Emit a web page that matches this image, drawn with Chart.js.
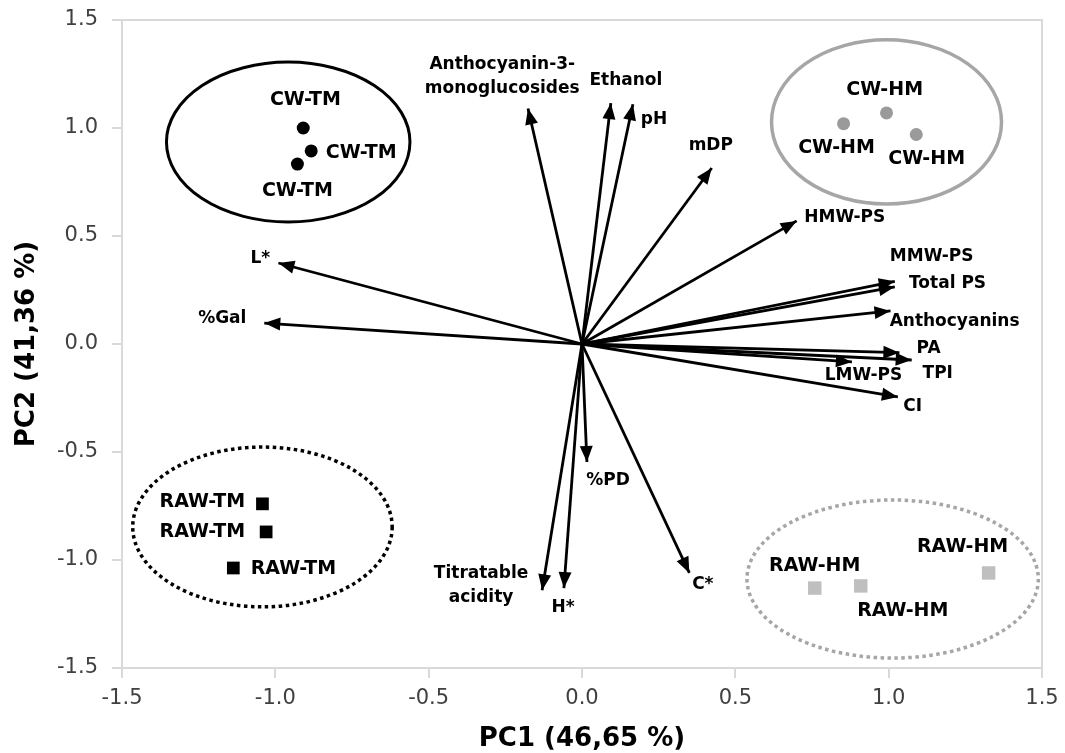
<!DOCTYPE html>
<html>
<head>
<meta charset="utf-8">
<script src="https://cdn.jsdelivr.net/npm/chart.js@4.4.0/dist/chart.umd.min.js"></script>
<style>
  body { margin: 0; background: #fff; }
  canvas { display: block; }
</style>
</head>
<body>
<canvas id="pcaChart" width="1065" height="753"></canvas>
<script>
// loadings (variables)
const varNames = ['Anthocyanin-3-\nmonoglucosides', 'Ethanol', 'pH', 'mDP', 'HMW-PS', 'MMW-PS', 'Total PS',
    'Anthocyanins', 'PA', 'TPI', 'LMW-PS', 'CI', 'L*', '%Gal', '%PD', 'Titratable\nacidity', 'H*', 'C*'];
const varPC1 = [-0.176, 0.094, 0.166, 0.423, 0.70, 1.02, 1.02, 1.006, 1.035, 1.075, 0.88, 1.03, -0.99, -1.036, 0.016, -0.13, -0.059, 0.35];
const varPC2 = [1.09, 1.115, 1.11, 0.815, 0.57, 0.29, 0.265, 0.153, -0.04, -0.074, -0.083, -0.245, 0.375, 0.097, -0.546, -1.14, -1.13, -1.06];
// where each variable name sits (data units)
const varLabelX = [-0.26, 0.143, 0.235, 0.42, 0.857, 1.14, 1.192, 1.215, 1.13, 1.16, 0.918, 1.078, -1.049, -1.173, 0.085, -0.329, -0.062, 0.394];
const varLabelY = [1.238, 1.218, 1.037, 0.917, 0.583, 0.403, 0.278, 0.102, -0.023, -0.139, -0.144, -0.29, 0.394, 0.116, -0.63, -1.118, -1.218, -1.116];

// scores (samples)
const groups = ['CW-TM', 'CW-HM', 'RAW-TM', 'RAW-HM'];
const cwtmX = [-0.909, -0.883, -0.928];
const cwtmY = [1.0, 0.894, 0.833];
const cwhmX = [0.853, 0.993, 1.09];
const cwhmY = [1.02, 1.07, 0.97];
const rawtmX = [-1.042, -1.03, -1.137];
const rawtmY = [-0.74, -0.87, -1.037];
const rawhmX = [0.759, 0.909, 1.326];
const rawhmY = [-1.13, -1.12, -1.06];

const cwtmLabX = [-0.902, -0.72, -0.928];
const cwtmLabY = [1.13, 0.884, 0.708];
const cwhmLabX = [0.987, 0.83, 1.124];
const cwhmLabY = [1.176, 0.907, 0.856];
const rawtmLabX = [-1.238, -1.238, -0.941];
const rawtmLabY = [-0.731, -0.87, -1.042];
const rawhmLabX = [0.759, 1.046, 1.241];
const rawhmLabY = [-1.028, -1.236, -0.94];

// group ellipses: centre and radii in data units
const ellCX = [-0.958, 0.993, -1.042, 1.013];
const ellCY = [0.935, 1.028, -0.847, -1.088];
const ellRX = [0.397, 0.375, 0.423, 0.475];
const ellRY = [0.37, 0.38, 0.37, 0.366];

const xTicks = [-1.5, -1.0, -0.5, 0.0, 0.5, 1.0, 1.5];
const yTicks = [-1.5, -1.0, -0.5, 0.0, 0.5, 1.0, 1.5];

const ellStyle = [
    { color: '#000000', width: 3, dash: [] },
    { color: '#a6a6a6', width: 3.5, dash: [] },
    { color: '#000000', width: 3.5, dash: [3.5, 3.5] },
    { color: '#a6a6a6', width: 3.5, dash: [3.5, 3.5] }
];

function toPoints(xs, ys) {
    return xs.map((x, i) => ({ x: x, y: ys[i] }));
}

const arrowSets = varNames.map((name, i) => ({
    label: name,
    data: [{ x: 0, y: 0 }, { x: varPC1[i], y: varPC2[i] }],
    showLine: true,
    borderColor: '#000',
    borderWidth: 2.8,
    pointRadius: 0
}));

const scoreSets = [
    { label: groups[0], data: toPoints(cwtmX, cwtmY), pointStyle: 'circle', pointRadius: 6.5, backgroundColor: '#000', borderColor: '#000', borderWidth: 0 },
    { label: groups[1], data: toPoints(cwhmX, cwhmY), pointStyle: 'circle', pointRadius: 6.5, backgroundColor: '#9a9a9a', borderColor: '#9a9a9a', borderWidth: 0 },
    { label: groups[2], data: toPoints(rawtmX, rawtmY), pointStyle: 'rect', pointRadius: 9, backgroundColor: '#000', borderColor: '#000', borderWidth: 0 },
    { label: groups[3], data: toPoints(rawhmX, rawhmY), pointStyle: 'rect', pointRadius: 9.5, backgroundColor: '#bfbfbf', borderColor: '#bfbfbf', borderWidth: 0 }
];

const sampleLabels = [
    [cwtmLabX, cwtmLabY], [cwhmLabX, cwhmLabY], [rawtmLabX, rawtmLabY], [rawhmLabX, rawhmLabY]
];

// ellipses, frame, arrow heads and text labels
const biplotPlugin = {
    id: 'biplot',
    beforeDatasetsDraw(chart) {
        const ctx = chart.ctx;
        const xs = chart.scales.x, ys = chart.scales.y;
        ctx.save();
        ellCX.forEach((cx, i) => {
            const px = xs.getPixelForValue(cx);
            const py = ys.getPixelForValue(ellCY[i]);
            const rx = Math.abs(xs.getPixelForValue(cx + ellRX[i]) - px);
            const ry = Math.abs(ys.getPixelForValue(ellCY[i] + ellRY[i]) - py);
            ctx.beginPath();
            ctx.ellipse(px, py, rx, ry, 0, 0, Math.PI * 2);
            ctx.strokeStyle = ellStyle[i].color;
            ctx.lineWidth = ellStyle[i].width;
            ctx.setLineDash(ellStyle[i].dash);
            ctx.stroke();
        });
        ctx.setLineDash([]);
        const a = chart.chartArea;
        ctx.strokeStyle = '#d9d9d9';
        ctx.lineWidth = 2;
        ctx.strokeRect(a.left, a.top, a.right - a.left, a.bottom - a.top);
        ctx.restore();
    },
    afterDatasetsDraw(chart) {
        const ctx = chart.ctx;
        const xs = chart.scales.x, ys = chart.scales.y;
        ctx.save();
        // arrow heads
        const ox = xs.getPixelForValue(0), oy = ys.getPixelForValue(0);
        varPC1.forEach((vx, i) => {
            const tx = xs.getPixelForValue(vx), ty = ys.getPixelForValue(varPC2[i]);
            const ang = Math.atan2(ty - oy, tx - ox);
            const len = 16, half = 6.5;
            ctx.beginPath();
            ctx.moveTo(tx, ty);
            ctx.lineTo(tx - len * Math.cos(ang) + half * Math.sin(ang), ty - len * Math.sin(ang) - half * Math.cos(ang));
            ctx.lineTo(tx - len * Math.cos(ang) - half * Math.sin(ang), ty - len * Math.sin(ang) + half * Math.cos(ang));
            ctx.closePath();
            ctx.fillStyle = '#000';
            ctx.fill();
        });
        // variable names
        ctx.fillStyle = '#000';
        ctx.textAlign = 'center';
        ctx.textBaseline = 'middle';
        ctx.font = 'bold 17px "DejaVu Sans"';
        varNames.forEach((name, i) => {
            const px = xs.getPixelForValue(varLabelX[i]);
            const py = ys.getPixelForValue(varLabelY[i]);
            const lines = name.split('\n');
            lines.forEach((ln, k) => {
                ctx.fillText(ln, px, py + (k - (lines.length - 1) / 2) * 24);
            });
        });
        // sample names
        ctx.font = 'bold 19px "DejaVu Sans"';
        sampleLabels.forEach((pair, g) => {
            pair[0].forEach((lx, k) => {
                ctx.fillText(groups[g], xs.getPixelForValue(lx), ys.getPixelForValue(pair[1][k]));
            });
        });
        ctx.restore();
    }
};

const ctx = document.getElementById('pcaChart').getContext('2d');
new Chart(ctx, {
    type: 'scatter',
    data: { datasets: arrowSets.concat(scoreSets) },
    options: {
        responsive: false,
        animation: false,
        layout: { padding: { top: 20, right: 23, left: 0, bottom: 0 } },
        plugins: {
            legend: { display: false },
            tooltip: { enabled: false }
        },
        scales: {
            x: {
                type: 'linear',
                min: -1.5,
                max: 1.5,
                afterFit: s => { s.height = 85; s.paddingLeft = 0; s.paddingRight = 0; },
                afterBuildTicks: s => { s.ticks = xTicks.map(v => ({ value: v })); },
                grid: { drawOnChartArea: false, drawTicks: true, tickLength: 10, color: '#d9d9d9', lineWidth: 2 },
                border: { display: false },
                ticks: {
                    color: '#404040',
                    font: { family: '"DejaVu Sans"', size: 21 },
                    padding: 8,
                    maxRotation: 0,
                    callback: v => v.toFixed(1)
                },
                title: {
                    display: true,
                    text: 'PC1 (46,65 %)',
                    color: '#000',
                    font: { family: '"DejaVu Sans"', size: 26, weight: 'bold', lineHeight: 1.05 },
                    padding: { top: 0, bottom: 0 }
                }
            },
            y: {
                type: 'linear',
                min: -1.5,
                max: 1.5,
                afterFit: s => { s.width = 122; s.paddingTop = 0; s.paddingBottom = 0; },
                afterBuildTicks: s => { s.ticks = yTicks.map(v => ({ value: v })); },
                grid: { drawOnChartArea: false, drawTicks: true, tickLength: 10, color: '#d9d9d9', lineWidth: 2 },
                border: { display: false },
                ticks: {
                    color: '#404040',
                    font: { family: '"DejaVu Sans"', size: 21 },
                    padding: 14,
                    callback: v => v.toFixed(1)
                },
                title: {
                    display: true,
                    text: 'PC2 (41,36 %)',
                    color: '#000',
                    font: { family: '"DejaVu Sans"', size: 26, weight: 'bold' },
                    padding: { top: 12, bottom: 0 }
                }
            }
        }
    },
    plugins: [biplotPlugin]
});
</script>
</body>
</html>
